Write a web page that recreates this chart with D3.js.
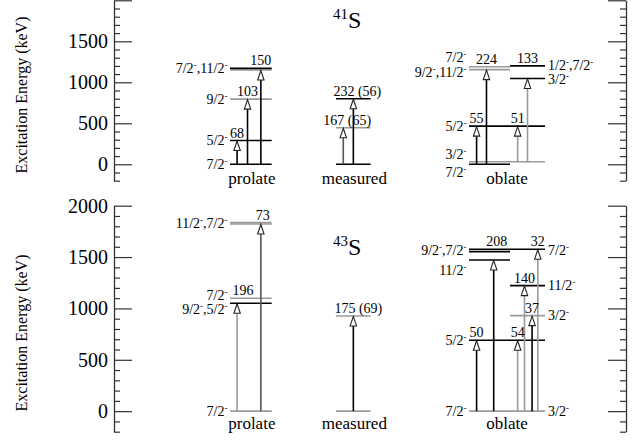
<!DOCTYPE html>
<html><head><meta charset="utf-8">
<script src="https://cdn.jsdelivr.net/npm/d3@7"></script>
</head><body style="margin:0">
<svg id="c" width="644" height="441"></svg>
<script>
// ---------------- DATA ----------------
const columns = ["prolate", "measured", "oblate"];
const nuclei = ["41", "43"];
const yTickValues = [0, 500, 1000, 1500, 2000];
const yAxisTitle = "Excitation Energy (keV)";

// levels: [column, part, energy (keV), kind]
const levels41 = [
  ["prolate", "all", 0, "a"], ["prolate", "all", 290, "a"], ["prolate", "all", 795, "b"],
  ["prolate", "all", 1150, "b"], ["prolate", "all", 1170, "a"],
  ["measured", "all", 0, "a"], ["measured", "all", 445, "b"], ["measured", "all", 800, "a"],
  ["oblate", "left", 0, "a"], ["oblate", "all", 32, "b"], ["oblate", "all", 465, "a"],
  ["oblate", "left", 1155, "b"], ["oblate", "left", 1190, "b"],
  ["oblate", "right", 1047, "a"], ["oblate", "right", 1200, "a"]
];
const levels43 = [
  ["prolate", "all", 0, "b"], ["prolate", "all", 1050, "a"], ["prolate", "all", 1099, "b"],
  ["prolate", "all", 1822, "b"], ["prolate", "all", 1835, "b"],
  ["measured", "all", 0, "b"], ["measured", "all", 927, "b"],
  ["oblate", "all", 0, "b"], ["oblate", "all", 690, "a"],
  ["oblate", "left", 1472, "a"], ["oblate", "left", 1553, "a"], ["oblate", "all", 1576, "a"],
  ["oblate", "right", 930, "b"], ["oblate", "right", 1222, "a"]
];

// transitions: [column, lane (fraction of column width), from E, to E, label, label E, kind]
const transitions41 = [
  ["prolate", 0.17, 0, 290, "68", 290, "a"],
  ["prolate", 0.42, 0, 795, "103", 795, "a"],
  ["prolate", 0.74, 0, 1150, "150", 1170, "a"],
  ["measured", 0.21, 0, 445, "167 (65)", 445, "c"],
  ["measured", 0.50, 0, 800, "232 (56)", 800, "a"],
  ["oblate", 0.10, 0, 465, "55", 465, "a"],
  ["oblate", 0.23, 0, 1155, "224", 1190, "a"],
  ["oblate", 0.64, 32, 465, "51", 465, "b"],
  ["oblate", 0.77, 32, 1047, "133", 1200, "b"]
];
const transitions43 = [
  ["prolate", 0.17, 0, 1050, "196", 1099, "b"],
  ["prolate", 0.74, 0, 1822, "73", 1835, "c"],
  ["measured", 0.50, 0, 927, "175 (69)", 927, "a"],
  ["oblate", 0.10, 0, 690, "50", 690, "a"],
  ["oblate", 0.325, 0, 1472, "208", 1576, "a"],
  ["oblate", 0.64, 0, 690, "54", 690, "b"],
  ["oblate", 0.73, 0, 1222, "140", 1222, "b"],
  ["oblate", 0.83, 0, 930, "37", 930, "a"],
  ["oblate", 0.905, 0, 1576, "32", 1576, "b"]
];

// spin labels: [column, side, E (label position), text]  ("-" = superscript minus)
const spins41 = [
  ["prolate", "left", 1165, "7/2-,11/2-"], ["prolate", "left", 795, "9/2-"],
  ["prolate", "left", 290, "5/2-"], ["prolate", "left", 0, "7/2-"],
  ["oblate", "left", 1300, "7/2-"], ["oblate", "left", 1120, "9/2-,11/2-"],
  ["oblate", "left", 465, "5/2-"], ["oblate", "left", 125, "3/2-"], ["oblate", "left", -105, "7/2-"],
  ["oblate", "right", 1205, "1/2-,7/2-"], ["oblate", "right", 1035, "3/2-"]
];
const spins43 = [
  ["prolate", "left", 1822, "11/2-,7/2-"], ["prolate", "left", 1125, "7/2-"],
  ["prolate", "left", 990, "9/2-,5/2-"], ["prolate", "left", 0, "7/2-"],
  ["oblate", "left", 1560, "9/2-,7/2-"], ["oblate", "left", 1365, "11/2-"],
  ["oblate", "left", 684, "5/2-"], ["oblate", "left", 0, "7/2-"],
  ["oblate", "right", 1562, "7/2-"], ["oblate", "right", 1222, "11/2-"],
  ["oblate", "right", 930, "3/2-"], ["oblate", "right", 0, "3/2-"]
];

// ---------------- LAYOUT / STYLE ----------------
const FONT = "Liberation Serif";
const svg = d3.select("#c");
const xLeftAxis = 114, xRightAxis = 626;
const colRange = d3.scaleOrdinal().domain(columns).range([[230, 271.7], [336, 370.7], [469, 545]]);
const partRange = {all: [0, 1], left: [0, 0.54], right: [0.54, 1]};
const levelColor = {a: "#000", b: "#9a9a9a"};
const arrowColor = {a: "#000", b: "#9a9a9a", c: "#555"};
const labelShift = {"196": 6, "208": 3, "167 (65)": 4, "232 (56)": 4, "175 (69)": 5, "73": 2};

const panels = [
  {nuc: nuclei[0], levels: levels41, trans: transitions41, spins: spins41,
   y: d3.scaleLinear().domain([-200, 2000]).range([180.7, 0.3]), labels: [0, 500, 1000, 1500],
   titleY: 28, colNameY: 183.5, axisTitleY: 95},
  {nuc: nuclei[1], levels: levels43, trans: transitions43, spins: spins43,
   y: d3.scaleLinear().domain([-200, 2000]).range([431.7, 205.7]), labels: yTickValues,
   titleY: 255, colNameY: 428.5, axisTitleY: 333}
];

function addSpinText(sel, str) {
  const parts = str.split("-");
  let shifted = false;
  parts.forEach((p, i) => {
    if (p.length) {
      const ts = sel.append("tspan").attr("font-family", FONT).text(p);
      if (shifted) { ts.attr("dy", 5); shifted = false; }
    }
    if (i < parts.length - 1) {
      sel.append("tspan").attr("font-family", FONT).attr("font-size", 9).attr("dy", -5).text("-");
      shifted = true;
    }
  });
}

// axes first (ticks), in their own groups
panels.forEach(P => {
  const y = P.y;
  const minorVals = d3.range(-200, 2001, 100).filter(v => v % 500 !== 0);
  [[xLeftAxis, d3.axisLeft], [xRightAxis, d3.axisRight]].forEach(([xp, mk]) => {
    const a = svg.append("g").attr("transform", `translate(${xp},0)`);
    a.call(mk(y).tickValues(yTickValues).tickSize(-18).tickSizeOuter(0).tickFormat(""));
    a.append("g").call(mk(y).tickValues(minorVals).tickSize(-6).tickSizeOuter(0).tickFormat(""));
    a.selectAll("text").remove();
    a.selectAll("line").attr("stroke", "#333").attr("stroke-width", 1.2);
    a.selectAll("path.domain").attr("stroke", "#333").attr("stroke-width", 1.3);
    a.select("g path.domain").remove();
    a.attr("font-family", null).attr("font-size", null);
    a.selectAll("g").attr("font-family", null).attr("font-size", null);
  });
});

// marks
panels.forEach(P => {
  const y = P.y;
  const xOf = (col, f) => { const r = colRange(col); return r[0] + f * (r[1] - r[0]); };

  svg.selectAll(null).data(P.levels).join("line")
    .attr("x1", d => xOf(d[0], partRange[d[1]][0]))
    .attr("x2", d => xOf(d[0], partRange[d[1]][1]))
    .attr("y1", d => y(d[2])).attr("y2", d => y(d[2]))
    .attr("stroke", d => levelColor[d[3]]).attr("stroke-width", 1.6);

  const headH = 10, headW = 3.2;
  P.trans.forEach(d => {
    const x = xOf(d[0], d[1]);
    const y0 = y(d[2]), y1 = y(d[3]);
    svg.append("line").attr("x1", x).attr("x2", x).attr("y1", y0).attr("y2", y1 + headH)
      .attr("stroke", arrowColor[d[6]]).attr("stroke-width", 1.6);
    svg.append("path")
      .attr("d", `M${x},${y1 + 0.5}L${x - headW},${y1 + headH}L${x + headW},${y1 + headH}Z`)
      .attr("fill", "#fff").attr("stroke", "#222").attr("stroke-width", 1.1);
  });
});

// texts, appended directly to the svg
panels.forEach(P => {
  const y = P.y;
  const xOf = (col, f) => { const r = colRange(col); return r[0] + f * (r[1] - r[0]); };

  P.labels.forEach(v => {
    svg.append("text").attr("x", xLeftAxis - 6).attr("y", y(v) + 7)
      .attr("font-size", 20).attr("font-family", FONT).attr("text-anchor", "end")
      .text(d3.format("d")(v));
  });

  svg.append("text").attr("transform", `translate(27,${P.axisTitleY}) rotate(-90)`)
    .attr("font-size", 16).attr("font-family", FONT).attr("text-anchor", "middle").text(yAxisTitle);

  const t = svg.append("text").attr("x", 333).attr("y", P.titleY).attr("font-family", FONT);
  t.append("tspan").attr("font-family", FONT).attr("font-size", 15).attr("dy", -9).text(P.nuc);
  t.append("tspan").attr("font-family", FONT).attr("font-size", 24).attr("dy", 9).text("S");

  P.trans.forEach(d => {
    const x = xOf(d[0], d[1]);
    svg.append("text").attr("x", x + (labelShift[d[4]] || 0)).attr("y", y(d[5]) - 3)
      .attr("font-size", 14).attr("font-family", FONT).attr("text-anchor", "middle").text(d[4]);
  });

  P.spins.forEach(d => {
    const r = colRange(d[0]);
    const left = d[1] === "left";
    const tx = svg.append("text")
      .attr("x", left ? r[0] - 2.5 : r[1] + 3)
      .attr("y", y(d[2]) + 4.5)
      .attr("font-size", 14).attr("font-family", FONT)
      .attr("text-anchor", left ? "end" : "start");
    addSpinText(tx, d[3]);
  });

  columns.forEach(c => {
    const r = colRange(c);
    svg.append("text").attr("x", c === "oblate" ? r[0] + 38 : (r[0] + r[1]) / 2 + 1)
      .attr("y", P.colNameY).attr("font-size", 17).attr("font-family", FONT)
      .attr("text-anchor", "middle").text(c);
  });
});
</script>
</body></html>
